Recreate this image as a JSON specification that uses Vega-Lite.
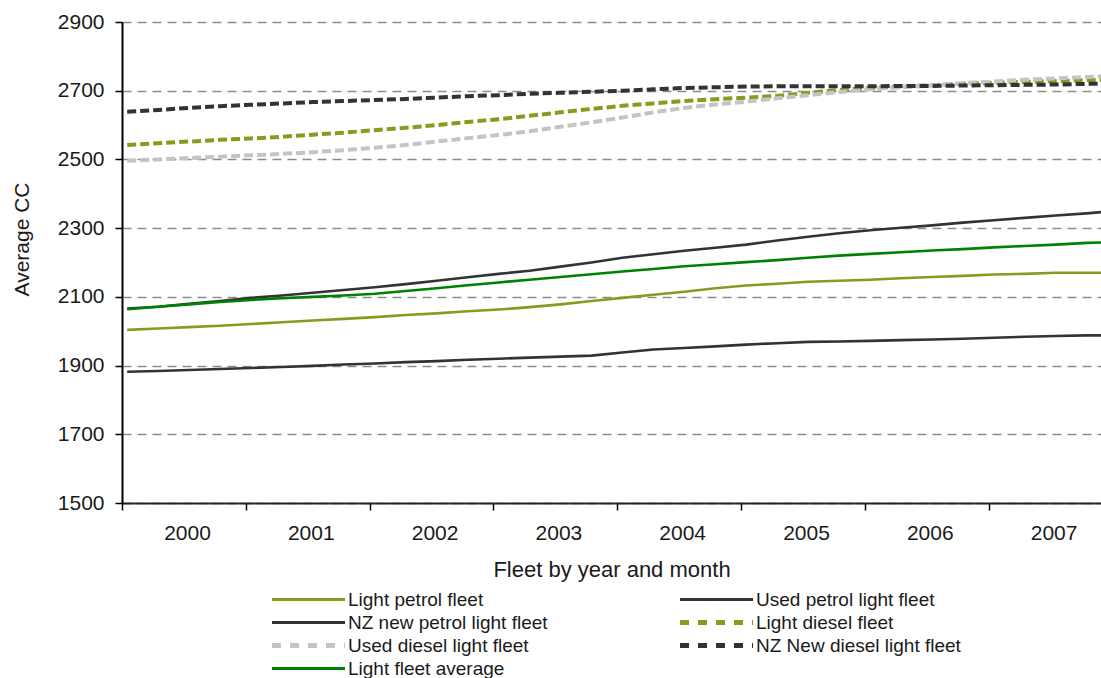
{
  "$schema": "https://vega.github.io/schema/vega-lite/v6.json",
  "autosize": "none",
  "width": 979,
  "height": 481,
  "padding": {"left": 122, "top": 22, "right": 0, "bottom": 175},
  "background": "white",
  "config": {
    "font": "Liberation Sans",
    "view": {"stroke": null},
    "axis": {"labelFont": "Liberation Sans", "titleFont": "Liberation Sans", "titleFontWeight": "normal", "labelColor": "#1a1a1a", "titleColor": "#1a1a1a"}
  },
  "data": {
    "values": [
      {"t": 2000.042, "Light petrol fleet": 2004, "Used petrol light fleet": 1882, "NZ new  petrol light fleet": 2066, "Light diesel fleet": 2542, "Used diesel light fleet": 2496, "NZ New  diesel light fleet": 2639, "Light fleet average": 2064},
      {"t": 2000.292, "Light petrol fleet": 2008, "Used petrol light fleet": 1884, "NZ new  petrol light fleet": 2071, "Light diesel fleet": 2547, "Used diesel light fleet": 2500, "NZ New  diesel light fleet": 2644, "Light fleet average": 2071},
      {"t": 2000.542, "Light petrol fleet": 2012, "Used petrol light fleet": 1887, "NZ new  petrol light fleet": 2080, "Light diesel fleet": 2552, "Used diesel light fleet": 2504, "NZ New  diesel light fleet": 2650, "Light fleet average": 2078},
      {"t": 2000.792, "Light petrol fleet": 2016, "Used petrol light fleet": 1890, "NZ new  petrol light fleet": 2088, "Light diesel fleet": 2557, "Used diesel light fleet": 2508, "NZ New  diesel light fleet": 2655, "Light fleet average": 2085},
      {"t": 2001.042, "Light petrol fleet": 2021, "Used petrol light fleet": 1893, "NZ new  petrol light fleet": 2097, "Light diesel fleet": 2561, "Used diesel light fleet": 2512, "NZ New  diesel light fleet": 2659, "Light fleet average": 2091},
      {"t": 2001.292, "Light petrol fleet": 2026, "Used petrol light fleet": 1896, "NZ new  petrol light fleet": 2104, "Light diesel fleet": 2566, "Used diesel light fleet": 2516, "NZ New  diesel light fleet": 2663, "Light fleet average": 2096},
      {"t": 2001.542, "Light petrol fleet": 2031, "Used petrol light fleet": 1899, "NZ new  petrol light fleet": 2112, "Light diesel fleet": 2572, "Used diesel light fleet": 2521, "NZ New  diesel light fleet": 2667, "Light fleet average": 2100},
      {"t": 2001.792, "Light petrol fleet": 2036, "Used petrol light fleet": 1903, "NZ new  petrol light fleet": 2120, "Light diesel fleet": 2578, "Used diesel light fleet": 2527, "NZ New  diesel light fleet": 2670, "Light fleet average": 2104},
      {"t": 2002.042, "Light petrol fleet": 2041, "Used petrol light fleet": 1906, "NZ new  petrol light fleet": 2128, "Light diesel fleet": 2585, "Used diesel light fleet": 2534, "NZ New  diesel light fleet": 2673, "Light fleet average": 2109},
      {"t": 2002.292, "Light petrol fleet": 2047, "Used petrol light fleet": 1910, "NZ new  petrol light fleet": 2137, "Light diesel fleet": 2592, "Used diesel light fleet": 2542, "NZ New  diesel light fleet": 2676, "Light fleet average": 2117},
      {"t": 2002.542, "Light petrol fleet": 2052, "Used petrol light fleet": 1913, "NZ new  petrol light fleet": 2147, "Light diesel fleet": 2600, "Used diesel light fleet": 2552, "NZ New  diesel light fleet": 2680, "Light fleet average": 2125},
      {"t": 2002.792, "Light petrol fleet": 2058, "Used petrol light fleet": 1917, "NZ new  petrol light fleet": 2157, "Light diesel fleet": 2609, "Used diesel light fleet": 2562, "NZ New  diesel light fleet": 2684, "Light fleet average": 2134},
      {"t": 2003.042, "Light petrol fleet": 2063, "Used petrol light fleet": 1920, "NZ new  petrol light fleet": 2167, "Light diesel fleet": 2617, "Used diesel light fleet": 2571, "NZ New  diesel light fleet": 2687, "Light fleet average": 2142},
      {"t": 2003.292, "Light petrol fleet": 2070, "Used petrol light fleet": 1923, "NZ new  petrol light fleet": 2176, "Light diesel fleet": 2627, "Used diesel light fleet": 2582, "NZ New  diesel light fleet": 2691, "Light fleet average": 2150},
      {"t": 2003.542, "Light petrol fleet": 2078, "Used petrol light fleet": 1926, "NZ new  petrol light fleet": 2188, "Light diesel fleet": 2637, "Used diesel light fleet": 2595, "NZ New  diesel light fleet": 2694, "Light fleet average": 2158},
      {"t": 2003.792, "Light petrol fleet": 2088, "Used petrol light fleet": 1929, "NZ new  petrol light fleet": 2200, "Light diesel fleet": 2647, "Used diesel light fleet": 2608, "NZ New  diesel light fleet": 2697, "Light fleet average": 2166},
      {"t": 2004.042, "Light petrol fleet": 2097, "Used petrol light fleet": 1938, "NZ new  petrol light fleet": 2214, "Light diesel fleet": 2656, "Used diesel light fleet": 2622, "NZ New  diesel light fleet": 2700, "Light fleet average": 2174},
      {"t": 2004.292, "Light petrol fleet": 2106, "Used petrol light fleet": 1947, "NZ new  petrol light fleet": 2224, "Light diesel fleet": 2663, "Used diesel light fleet": 2637, "NZ New  diesel light fleet": 2704, "Light fleet average": 2181},
      {"t": 2004.542, "Light petrol fleet": 2115, "Used petrol light fleet": 1951, "NZ new  petrol light fleet": 2234, "Light diesel fleet": 2670, "Used diesel light fleet": 2650, "NZ New  diesel light fleet": 2708, "Light fleet average": 2189},
      {"t": 2004.792, "Light petrol fleet": 2125, "Used petrol light fleet": 1956, "NZ new  petrol light fleet": 2243, "Light diesel fleet": 2675, "Used diesel light fleet": 2660, "NZ New  diesel light fleet": 2710, "Light fleet average": 2195},
      {"t": 2005.042, "Light petrol fleet": 2133, "Used petrol light fleet": 1961, "NZ new  petrol light fleet": 2252, "Light diesel fleet": 2680, "Used diesel light fleet": 2668, "NZ New  diesel light fleet": 2712, "Light fleet average": 2201},
      {"t": 2005.292, "Light petrol fleet": 2138, "Used petrol light fleet": 1965, "NZ new  petrol light fleet": 2264, "Light diesel fleet": 2685, "Used diesel light fleet": 2678, "NZ New  diesel light fleet": 2713, "Light fleet average": 2207},
      {"t": 2005.542, "Light petrol fleet": 2144, "Used petrol light fleet": 1969, "NZ new  petrol light fleet": 2275, "Light diesel fleet": 2694, "Used diesel light fleet": 2687, "NZ New  diesel light fleet": 2713, "Light fleet average": 2214},
      {"t": 2005.792, "Light petrol fleet": 2147, "Used petrol light fleet": 1970, "NZ new  petrol light fleet": 2285, "Light diesel fleet": 2702, "Used diesel light fleet": 2696, "NZ New  diesel light fleet": 2713, "Light fleet average": 2220},
      {"t": 2006.042, "Light petrol fleet": 2150, "Used petrol light fleet": 1972, "NZ new  petrol light fleet": 2294, "Light diesel fleet": 2708, "Used diesel light fleet": 2704, "NZ New  diesel light fleet": 2713, "Light fleet average": 2225},
      {"t": 2006.292, "Light petrol fleet": 2154, "Used petrol light fleet": 1974, "NZ new  petrol light fleet": 2301, "Light diesel fleet": 2712, "Used diesel light fleet": 2710, "NZ New  diesel light fleet": 2714, "Light fleet average": 2230},
      {"t": 2006.542, "Light petrol fleet": 2158, "Used petrol light fleet": 1976, "NZ new  petrol light fleet": 2308, "Light diesel fleet": 2716, "Used diesel light fleet": 2715, "NZ New  diesel light fleet": 2714, "Light fleet average": 2235},
      {"t": 2006.792, "Light petrol fleet": 2161, "Used petrol light fleet": 1978, "NZ new  petrol light fleet": 2316, "Light diesel fleet": 2720, "Used diesel light fleet": 2722, "NZ New  diesel light fleet": 2715, "Light fleet average": 2239},
      {"t": 2007.042, "Light petrol fleet": 2165, "Used petrol light fleet": 1981, "NZ new  petrol light fleet": 2323, "Light diesel fleet": 2723, "Used diesel light fleet": 2727, "NZ New  diesel light fleet": 2716, "Light fleet average": 2244},
      {"t": 2007.292, "Light petrol fleet": 2167, "Used petrol light fleet": 1984, "NZ new  petrol light fleet": 2330, "Light diesel fleet": 2726, "Used diesel light fleet": 2732, "NZ New  diesel light fleet": 2717, "Light fleet average": 2248},
      {"t": 2007.542, "Light petrol fleet": 2170, "Used petrol light fleet": 1986, "NZ new  petrol light fleet": 2337, "Light diesel fleet": 2728, "Used diesel light fleet": 2736, "NZ New  diesel light fleet": 2718, "Light fleet average": 2252},
      {"t": 2007.792, "Light petrol fleet": 2170, "Used petrol light fleet": 1988, "NZ new  petrol light fleet": 2343, "Light diesel fleet": 2731, "Used diesel light fleet": 2740, "NZ New  diesel light fleet": 2720, "Light fleet average": 2257},
      {"t": 2007.958, "Light petrol fleet": 2170, "Used petrol light fleet": 1988, "NZ new  petrol light fleet": 2348, "Light diesel fleet": 2732, "Used diesel light fleet": 2742, "NZ New  diesel light fleet": 2721, "Light fleet average": 2259}
    ]
  },
  "transform": [
    {"fold": ["Light petrol fleet", "Used petrol light fleet", "NZ new  petrol light fleet", "Light diesel fleet", "Used diesel light fleet", "NZ New  diesel light fleet", "Light fleet average"], "as": ["series", "cc"]}
  ],
  "encoding": {
    "x": {
      "field": "t",
      "type": "quantitative",
      "scale": {"domain": [2000, 2007.908], "nice": false, "zero": false},
      "axis": {
        "title": "Fleet by year and month",
        "titleFontSize": 22,
        "titleY": 66,
        "titleBaseline": "middle",
        "values": [2000, 2001, 2002, 2003, 2004, 2005, 2006, 2007],
        "format": "d",
        "labelOffset": 65,
        "labelFontSize": 21,
        "labelPadding": 12,
        "labelFlush": false,
        "labelOverlap": false,
        "labelBound": false,
        "tickSize": 7,
        "tickColor": "#000000",
        "tickWidth": 1.5,
        "domainColor": "#222222",
        "domainWidth": 2,
        "grid": false
      }
    },
    "y": {
      "field": "cc",
      "type": "quantitative",
      "scale": {"domain": [1500, 2900], "nice": false, "zero": false},
      "axis": {
        "title": "Average CC",
        "titleFontSize": 21,
        "titleAngle": 270,
        "titleX": -100,
        "titleY": 217,
        "titleAlign": "center",
        "titleBaseline": "middle",
        "values": [1500, 1700, 1900, 2100, 2300, 2500, 2700, 2900],
        "format": "d",
        "labelFontSize": 21,
        "labelPadding": 11,
        "tickSize": 7,
        "tickColor": "#000000",
        "tickWidth": 1.5,
        "domainColor": "#000000",
        "domainWidth": 2,
        "grid": true,
        "gridColor": "#8c8c8c",
        "gridDash": [9, 6],
        "gridWidth": 1.3
      }
    },
    "color": {
      "field": "series",
      "type": "nominal",
      "scale": {
        "domain": ["Light petrol fleet", "Used petrol light fleet", "NZ new  petrol light fleet", "Light diesel fleet", "Used diesel light fleet", "NZ New  diesel light fleet", "Light fleet average"],
        "range": ["#8a9a1e", "#333333", "#333333", "#8a9a1e", "#c4c4c4", "#333333", "#008000"]
      },
      "legend": {
        "title": null,
        "orient": "none",
        "direction": "horizontal",
        "legendX": 150,
        "legendY": 566,
        "columns": 2,
        "columnPadding": 127,
        "rowPadding": 0,
        "padding": 0,
        "clipHeight": 23,
        "symbolType": "stroke",
        "symbolSize": 5329,
        "symbolStrokeWidth": 3,
        "symbolOffset": 27,
        "labelFont": "Liberation Sans",
        "labelFontSize": 19,
        "labelColor": "#1a1a1a",
        "labelOffset": 30,
        "labelLimit": 400,
        "encode": {
          "symbols": {
            "update": {
              "strokeWidth": {"signal": "test(/diesel/, datum.value) ? 5 : 3"},
              "strokeDash": {"signal": "test(/diesel/, datum.value) ? [9, 9] : [1, 0]"}
            }
          }
        }
      }
    }
  },
  "layer": [
    {
      "transform": [{"filter": "!test(/diesel/, datum.series)"}],
      "mark": {"type": "line", "strokeWidth": 2.6, "clip": true}
    },
    {
      "transform": [{"filter": "test(/diesel/, datum.series)"}],
      "mark": {"type": "line", "strokeWidth": 4, "strokeDash": [9, 4], "clip": true}
    }
  ]
}
